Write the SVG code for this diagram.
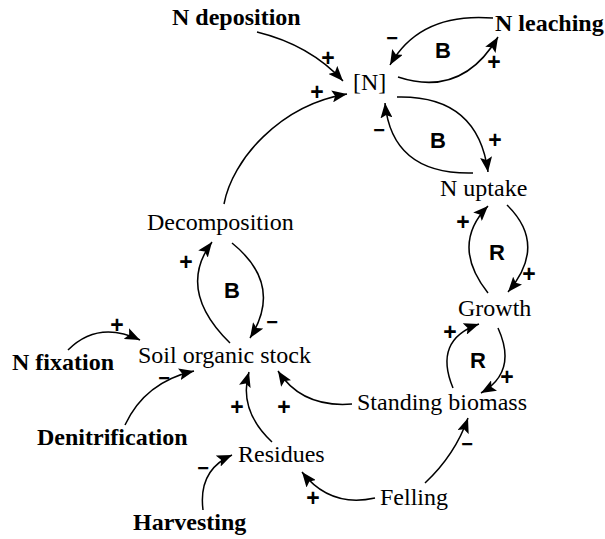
<svg xmlns="http://www.w3.org/2000/svg" width="605" height="539" viewBox="0 0 605 539">
<defs>
<style>
.n{font-family:"Liberation Serif","Times New Roman",serif;font-size:24px;fill:#000}
.b{font-weight:bold}
.s{font-family:"Liberation Sans",Arial,sans-serif;font-weight:bold;fill:#000}
.l{font-size:22px;text-anchor:middle}
.p{font-size:23px;text-anchor:middle}
.m{font-size:20px;text-anchor:middle}
.c{fill:none;stroke:#000;stroke-width:1.5;marker-end:url(#ah)}
</style>
<marker id="ah" markerUnits="userSpaceOnUse" markerWidth="16" markerHeight="12" refX="15" refY="6" orient="auto">
<path d="M0,0 L15,6 L0,12 L3,6 z" fill="#000"/>
</marker>
</defs>
<rect width="605" height="539" fill="#fff"/>
<g id="connectors">
<path class="c" d="M257,32 Q310,45 343,81"/>
<path class="c" d="M224,204 C232,160 280,105 347,94"/>
<path class="c" d="M398,77 Q462,98 498,37"/>
<path class="c" d="M493,18 Q420,12 390,65"/>
<path class="c" d="M397,97 Q478,95 488,172"/>
<path class="c" d="M473,173 Q392,175 385,103"/>
<path class="c" d="M488,293 Q450,245 488,206"/>
<path class="c" d="M507,205 Q548,245 508,292"/>
<path class="c" d="M453,388 Q433,340 479,324"/>
<path class="c" d="M498,328 Q518,372 481,393"/>
<path class="c" d="M425,483 Q455,455 468,418"/>
<path class="c" d="M375,498 Q330,508 302,472"/>
<path class="c" d="M352,404 Q302,408 278,371"/>
<path class="c" d="M272,442 Q238,410 249,372"/>
<path class="c" d="M203,510 Q198,470 232,455"/>
<path class="c" d="M125,425 Q145,382 194,371"/>
<path class="c" d="M68,350 Q98,320 140,340"/>
<path class="c" d="M230,343 Q176,290 212,242"/>
<path class="c" d="M232,243 Q284,285 250,338"/>
</g>
<g id="n-deposition"><text class="n b" x="172" y="25">N deposition</text></g>
<g id="n-pool"><text class="n" x="353" y="90">[N]</text></g>
<g id="n-leaching"><text class="n b" x="495" y="31">N leaching</text></g>
<g id="n-uptake"><text class="n" x="440" y="196">N uptake</text></g>
<g id="growth"><text class="n" x="458" y="316">Growth</text></g>
<g id="standing-biomass"><text class="n" x="357" y="410">Standing biomass</text></g>
<g id="decomposition"><text class="n" x="147" y="230">Decomposition</text></g>
<g id="soil-organic-stock"><text class="n" x="138" y="363">Soil organic stock</text></g>
<g id="n-fixation"><text class="n b" x="12" y="370">N fixation</text></g>
<g id="denitrification"><text class="n b" x="37" y="445">Denitrification</text></g>
<g id="residues"><text class="n" x="238" y="462">Residues</text></g>
<g id="harvesting"><text class="n b" x="133" y="530">Harvesting</text></g>
<g id="felling"><text class="n" x="380" y="505">Felling</text></g>
<g id="loop-labels">
<text class="s l" x="443" y="58">B</text>
<text class="s l" x="438" y="148">B</text>
<text class="s l" x="497" y="260">R</text>
<text class="s l" x="478" y="368">R</text>
<text class="s l" x="232" y="298">B</text>
</g>
<g id="polarities">
<text class="s p" x="328" y="65.5">+</text>
<text class="s p" x="317" y="99.5">+</text>
<text class="s m" x="392" y="45">−</text>
<text class="s p" x="494" y="69.5">+</text>
<text class="s m" x="379" y="137">−</text>
<text class="s p" x="495" y="147.5">+</text>
<text class="s p" x="463" y="229.5">+</text>
<text class="s p" x="529" y="281.5">+</text>
<text class="s p" x="450" y="339.5">+</text>
<text class="s p" x="507" y="385">+</text>
<text class="s m" x="467" y="451">−</text>
<text class="s p" x="186" y="269.5">+</text>
<text class="s m" x="272" y="329">−</text>
<text class="s p" x="117" y="332.5">+</text>
<text class="s m" x="164" y="385">−</text>
<text class="s m" x="203" y="475">−</text>
<text class="s p" x="237" y="414.5">+</text>
<text class="s p" x="284" y="414.5">+</text>
<text class="s p" x="313" y="505.5">+</text>
</g>
</svg>
